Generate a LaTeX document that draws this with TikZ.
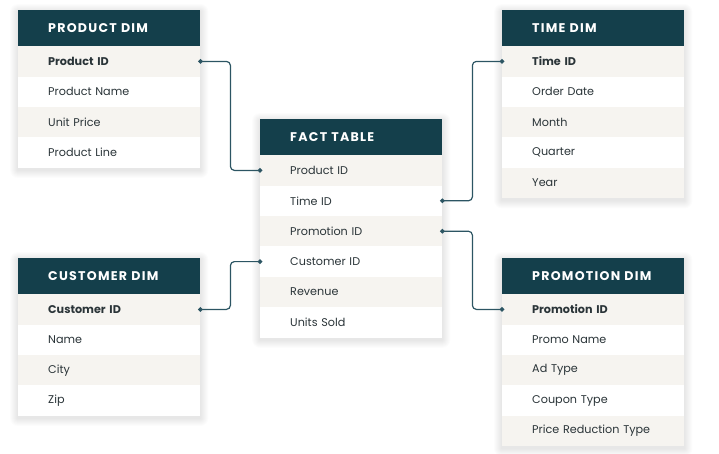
\documentclass[tikz,border=0pt]{standalone}
\usepackage{fontspec}
\setmainfont{Poppins}
\newfontfamily\headfont[LetterSpace=10]{Poppins}
\usetikzlibrary{arrows.meta,backgrounds,calc}
\definecolor{headbg}{HTML}{143F4B}
\definecolor{rowbg}{HTML}{F6F4F0}
\definecolor{linkc}{HTML}{2C5563}
\definecolor{txt}{HTML}{2A3438}
\begin{document}
\begin{tikzpicture}[x=1pt,y=-1pt,
    cell/.style={anchor=north west,minimum width=182pt,inner xsep=15pt,inner ysep=0pt,
      text width=152pt,align=left,execute at begin node={\parindent=0pt\hspace*{15pt}}},
    head/.style={cell,fill=headbg,text=white,minimum height=36pt,
      font=\headfont\bfseries\fontsize{12.6}{14}\selectfont},
    row/.style={cell,minimum height=30.4pt,text=txt,font=\fontsize{11.2}{13}\selectfont},
    link/.style={draw=linkc,line width=1.2pt,rounded corners=4pt,
      {Diamond[length=5pt,width=5pt]}-{Diamond[length=5pt,width=5pt]},
      shorten <=-2.5pt,shorten >=-2.5pt}]
  \useasboundingbox (0,0) rectangle (719,453);
  % product dim
  \node[head] (pdh) at (18,10) {PRODUCT DIM};
  \foreach \t [count=\i, evaluate=\i as \c using {100*mod(\i,2)}] in
      {\bfseries Product ID, Product Name, Unit Price, Product Line}
    \node[row,fill=rowbg!\c!white] (pd\i) at (18,{46+(\i-1)*30.4}) {\t};
  % time dim
  \node[head] (tdh) at (502,10) {TIME DIM};
  \foreach \t [count=\i, evaluate=\i as \c using {100*mod(\i,2)}] in
      {\bfseries Time ID, Order Date, Month, Quarter, Year}
    \node[row,fill=rowbg!\c!white] (td\i) at (502,{46+(\i-1)*30.4}) {\t};
  % fact table
  \node[head] (fth) at (260,119) {FACT TABLE};
  \foreach \t [count=\i, evaluate=\i as \c using {100*mod(\i,2)}] in
      {Product ID, Time ID, Promotion ID, Customer ID, Revenue, Units Sold}
    \node[row,fill=rowbg!\c!white] (ft\i) at (260,{155+(\i-1)*30.4}) {\t};
  % customer dim
  \node[head] (cdh) at (18,258) {CUSTOMER DIM};
  \foreach \t [count=\i, evaluate=\i as \c using {100*mod(\i,2)}] in
      {\bfseries Customer ID, Name, City, Zip}
    \node[row,fill=rowbg!\c!white] (cd\i) at (18,{294+(\i-1)*30.4}) {\t};
  % promotion dim
  \node[head] (mdh) at (502,258) {PROMOTION DIM};
  \foreach \t [count=\i, evaluate=\i as \c using {100*mod(\i,2)}] in
      {\bfseries Promotion ID, Promo Name, Ad Type, Coupon Type, Price Reduction Type}
    \node[row,fill=rowbg!\c!white] (md\i) at (502,{294+(\i-1)*30.4}) {\t};
  % soft shadows
  \begin{scope}[on background layer]
    \foreach \a/\b in {pdh/pd4, tdh/td5, fth/ft6, cdh/cd4, mdh/md5}
      \foreach \s in {1,...,8}
        \fill[black,opacity=0.01,rounded corners=\s pt]
          ($(\a.north west)+(-\s pt,{\s pt-2pt})$) rectangle ($(\b.south east)+(\s pt,{-\s pt-2pt})$);
  \end{scope}
  % keys
  \draw[link] (pd1.east) -- ++(30,0) |- (ft1.west);
  \draw[link] (ft2.east) -- ++(30,0) |- (td1.west);
  \draw[link] (cd1.east) -- ++(30,0) |- (ft4.west);
  \draw[link] (ft3.east) -- ++(30,0) |- (md1.west);
\end{tikzpicture}
\end{document}
